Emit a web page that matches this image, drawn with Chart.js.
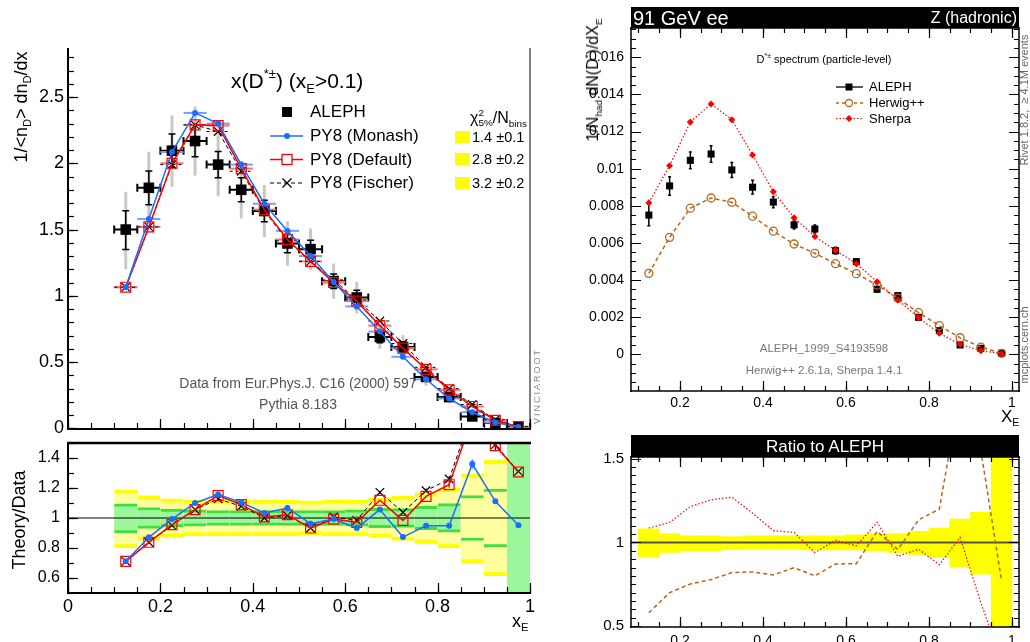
<!DOCTYPE html>
<html>
<head>
<meta charset="utf-8">
<title>D*± spectrum</title>
<script src="https://cdn.jsdelivr.net/npm/chart.js@4.4.1/dist/chart.umd.min.js"></script>
<style>
  html, body { margin: 0; padding: 0; background: #fff; }
  body { position: relative; width: 1030px; height: 642px; overflow: hidden;
         font-family: "Liberation Sans", Arial, Helvetica, sans-serif; color: #000; }
  canvas { position: absolute; }
  .t { position: absolute; white-space: nowrap; line-height: 1; }
  .c { position: absolute; white-space: nowrap; line-height: 1; transform: translate(-50%, -50%); }
  .rot { position: absolute; white-space: nowrap; line-height: 1; transform: translate(-50%, -50%) rotate(-90deg); }
  .sup { font-size: 62%; position: relative; top: -0.75em; }
  .sub { font-size: 62%; position: relative; top: 0.4em; }
  .stack { display: inline-block; vertical-align: -0.35em; font-size: 62%; line-height: 1.05; }
  .stack span { display: block; }
  .blk { position: absolute; background: #000; color: #fff; }
  .chi { position: absolute; background: #ffff00; width: 15px; height: 12px; }
</style>
</head>
<body>
<canvas id="mainL" width="545" height="440" style="left:0;top:0"></canvas>
<canvas id="ratioL" width="545" height="212" style="left:0;top:430px"></canvas>
<canvas id="mainR" width="450" height="430" style="left:580px;top:0"></canvas>
<canvas id="ratioR" width="450" height="212" style="left:580px;top:430px"></canvas>

<!-- left panel texts -->
<div class="t" style="left:231px;top:70px;font-size:21px">x(D<span class="sup">*±</span>) (x<span class="sub">E</span>&gt;0.1)</div>
<div class="t" style="left:310px;top:103px;font-size:17px">ALEPH</div>
<div class="t" style="left:310px;top:127px;font-size:17px">PY8 (Monash)</div>
<div class="t" style="left:310px;top:151px;font-size:17px">PY8 (Default)</div>
<div class="t" style="left:310px;top:174px;font-size:17px">PY8 (Fischer)</div>
<div class="t" style="left:470px;top:108px;font-size:16px">χ<span class="stack"><span>2</span><span>5%</span></span>/N<span class="sub">bins</span></div>
<div class="chi" style="left:455px;top:131px"></div>
<div class="chi" style="left:455px;top:153px"></div>
<div class="chi" style="left:455px;top:177px"></div>
<div class="t" style="left:472px;top:130px;font-size:14.5px">1.4 ±0.1</div>
<div class="t" style="left:472px;top:152px;font-size:14.5px">2.8 ±0.2</div>
<div class="t" style="left:472px;top:176px;font-size:14.5px">3.2 ±0.2</div>
<div class="c" style="left:298px;top:383px;font-size:14px;color:#555">Data from Eur.Phys.J. C16 (2000) 597</div>
<div class="c" style="left:298px;top:404px;font-size:14px;color:#555">Pythia 8.183</div>
<div class="rot" style="left:537px;top:386px;font-size:9px;letter-spacing:2px;color:#888">VINCIAROOT</div>
<div class="rot" style="left:21px;top:107px;font-size:18px">1/&lt;n<span class="sub">D</span>&gt; dn<span class="sub">D</span>/dx</div>
<div class="rot" style="left:19px;top:520px;font-size:18px">Theory/Data</div>
<div class="t" style="left:512px;top:612px;font-size:18px">x<span class="sub">E</span></div>

<!-- right panel texts -->
<div class="blk" style="left:631px;top:7px;width:388px;height:21px"></div>
<div class="t" style="left:633px;top:8px;font-size:20px;color:#fff">91 GeV ee</div>
<div class="t" style="right:13px;top:10px;font-size:16px;color:#fff">Z (hadronic)</div>
<div class="c" style="left:824px;top:59px;font-size:11px">D<span class="sup">*±</span> spectrum (particle-level)</div>
<div class="t" style="left:869px;top:80px;font-size:13px">ALEPH</div>
<div class="t" style="left:869px;top:96px;font-size:13px">Herwig++</div>
<div class="t" style="left:869px;top:112px;font-size:13px">Sherpa</div>
<div class="c" style="left:824px;top:349px;font-size:11.5px;color:#777">ALEPH_1999_S4193598</div>
<div class="c" style="left:824px;top:371px;font-size:11.5px;color:#777">Herwig++ 2.6.1a, Sherpa 1.4.1</div>
<div class="rot" style="left:1024px;top:100px;font-size:11px;color:#666">Rivet 1.8.2,&nbsp; ≥ 4.1M events</div>
<div class="rot" style="left:1024px;top:345px;font-size:11px;color:#666">mcplots.cern.ch</div>
<div class="rot" style="left:593px;top:80px;font-size:16px">1/N<span class="sub">had</span> dN(D<span class="sup">*</span>)/dX<span class="sub">E</span></div>
<div class="t" style="left:1001px;top:408px;font-size:17px">X<span class="sub">E</span></div>
<div class="blk" style="left:631px;top:435px;width:388px;height:22px"></div>
<div class="c" style="left:825px;top:446px;font-size:17px;color:#fff">Ratio to ALEPH</div>

<script>
// ---- data: x_E bin centres (bin width 0.05) ----
const xE = [0.125, 0.175, 0.225, 0.275, 0.325, 0.375, 0.425, 0.475, 0.525,
            0.575, 0.625, 0.675, 0.725, 0.775, 0.825, 0.875, 0.925, 0.975];

// left: 1/<n_D> dn_D/dx
const aleph     = [1.50, 1.815, 2.095, 2.168, 1.99, 1.80, 1.64, 1.395, 1.352, 1.11, 0.987, 0.69, 0.614, 0.388, 0.236, 0.09, 0.04, 0.01];
const pyMonash  = [1.065, 1.58, 2.085, 2.38, 2.30, 1.99, 1.695, 1.49, 1.30, 1.105, 0.92, 0.73, 0.54, 0.37, 0.225, 0.122, 0.044, 0.0095];
const pyDefault = [1.065, 1.52, 2.00, 2.29, 2.285, 1.96, 1.65, 1.425, 1.26, 1.10, 0.96, 0.775, 0.605, 0.445, 0.29, 0.165, 0.06, 0.013];
const pyFischer = [1.065, 1.52, 1.99, 2.29, 2.24, 1.94, 1.64, 1.415, 1.26, 1.12, 0.97, 0.81, 0.64, 0.46, 0.30, 0.18, 0.065, 0.013];

// left: theory / data
const monashRatio  = [0.711, 0.871, 0.993, 1.10, 1.156, 1.104, 1.033, 1.067, 0.962, 0.993, 0.933, 1.056, 0.873, 0.949, 0.949, 1.36, 1.111, 0.951];
const defaultRatio = [0.711, 0.838, 0.956, 1.056, 1.149, 1.089, 1.007, 1.022, 0.933, 0.993, 0.971, 1.118, 0.984, 1.144, 1.222, 1.67, 1.482, 1.307];
const fischerRatio = [0.711, 0.838, 0.951, 1.056, 1.127, 1.078, 1.0, 1.016, 0.933, 1.007, 0.984, 1.171, 1.038, 1.182, 1.26, 1.70, 1.489, 1.311];
const pyRatioErr   = [0.01, 0.01, 0.01, 0.01, 0.01, 0.01, 0.01, 0.01, 0.01, 0.01, 0.01, 0.01, 0.015, 0.015, 0.02, 0.03, 0.035, 0.07];

// left: data uncertainty bands (relative)
const totHi  = [1.19, 1.15, 1.127, 1.12, 1.12, 1.12, 1.12, 1.12, 1.115, 1.12, 1.12, 1.133, 1.145, 1.167, 1.198, 1.295, 1.385, 1.75];
const statHi = [1.095, 1.07, 1.06, 1.055, 1.05, 1.05, 1.05, 1.05, 1.05, 1.05, 1.055, 1.065, 1.062, 1.078, 1.096, 1.15, 1.193, 1.6];
const statLo = [0.90, 0.93, 0.94, 0.945, 0.95, 0.95, 0.95, 0.95, 0.95, 0.95, 0.945, 0.935, 0.938, 0.922, 0.905, 0.85, 0.807, 0.4];
const totLo  = [0.80, 0.85, 0.87, 0.88, 0.88, 0.88, 0.88, 0.88, 0.885, 0.88, 0.88, 0.87, 0.85, 0.83, 0.80, 0.70, 0.615, 0.25];

// right: 1/N_had dN(D*)/dX_E
const alephR    = [0.0075, 0.00907, 0.01045, 0.01079, 0.00993, 0.0090, 0.0082, 0.00697, 0.00675, 0.00558, 0.00499, 0.0035, 0.00316, 0.00199, 0.00127, 0.0005, 0.00032, 0.00005];
const alephRErr = [0.00058, 0.0005, 0.00045, 0.00045, 0.0004, 0.00037, 0.0003, 0.00022, 0.00022, 0.00018, 0.00016, 0.00014, 0.00012, 0.0001, 0.0001, 0.00008, 0.00006, 0.00003];
const herwig    = [0.00436, 0.0063, 0.00787, 0.00842, 0.00819, 0.00744, 0.00663, 0.00594, 0.00544, 0.00488, 0.00434, 0.00373, 0.00302, 0.00224, 0.00154, 0.00089, 0.00038, 0.00005];
const sherpa    = [0.00817, 0.01016, 0.01252, 0.01349, 0.01264, 0.01074, 0.00876, 0.00736, 0.00634, 0.0056, 0.00488, 0.00391, 0.00293, 0.00197, 0.00113, 0.00054, 0.00019, 0.00003];

// right: ratio to ALEPH
const herwigRatio = [0.58, 0.70, 0.752, 0.778, 0.82, 0.824, 0.806, 0.849, 0.80, 0.871, 0.873, 1.066, 0.957, 1.135, 1.199, 1.9, 1.55, 0.77];
const sherpaRatio = [1.086, 1.119, 1.214, 1.254, 1.27, 1.175, 1.07, 1.06, 0.94, 1.012, 0.98, 1.12, 0.917, 0.96, 0.867, 1.03, 0.64, 0.3];
const bandHi = [1.081, 1.052, 1.04, 1.04, 1.034, 1.04, 1.04, 1.04, 1.04, 1.04, 1.045, 1.052, 1.052, 1.066, 1.085, 1.14, 1.18, 1.6];
const bandLo = [0.911, 0.94, 0.95, 0.95, 0.957, 0.96, 0.96, 0.96, 0.955, 0.955, 0.955, 0.95, 0.94, 0.928, 0.911, 0.853, 0.81, 0.4];

// tick labels
const mainLYTicks  = [0, 0.5, 1, 1.5, 2, 2.5];
const ratioLYTicks = [0.6, 0.8, 1, 1.2, 1.4];
const leftXTicks   = [0, 0.2, 0.4, 0.6, 0.8, 1];
const mainRYTicks  = [0, 0.002, 0.004, 0.006, 0.008, 0.01, 0.012, 0.014, 0.016];
const ratioRYTicks = [0.5, 1, 1.5];
const rightXTicks  = [0.2, 0.4, 0.6, 0.8, 1];

const BLUE = '#1a6eff', RED = '#ff0000', BROWN = '#b8661e';

Chart.defaults.font.family = '"Liberation Sans", Arial, Helvetica, sans-serif';
Chart.defaults.color = '#000';
Chart.defaults.animation = false;
Chart.defaults.responsive = false;
Chart.defaults.events = [];
Chart.defaults.plugins.legend.display = false;
Chart.defaults.plugins.tooltip.enabled = false;

const pts = ys => xE.map((x, i) => ({ x, y: ys[i] }));
const span = (lo, hi) => xE.map((x, i) => ({ x, y: [lo[i], hi[i]] }));
const fmt = v => String(parseFloat((+v).toFixed(4)));

function axis(min, max, ticks, size, fontSize, pad, show) {
  return {
    type: 'linear', min, max, offset: false,
    grid: { display: false, drawTicks: false }, border: { display: false },
    ticks: { display: show, autoSkip: false, maxRotation: 0, padding: pad, font: { size: fontSize }, callback: fmt },
    afterBuildTicks: s => { s.ticks = ticks.map(v => ({ value: v })); },
    afterFit: s => {
      if (s.isHorizontal()) s.height = size; else s.width = size;
      s.paddingTop = s.paddingBottom = s.paddingLeft = s.paddingRight = 0;
    }
  };
}

// ROOT-style frame with inward ticks
const rootFrame = {
  id: 'rootFrame',
  afterDatasetsDraw(chart, args, o) {
    const { ctx, chartArea: a, scales: { x, y } } = chart;
    ctx.save();
    ctx.strokeStyle = '#000';
    ctx.lineWidth = o.tickWidth || 1;
    const marks = (scale, list, sides) => {
      list.forEach(({ step, len }) => {
        for (let k = Math.ceil(scale.min / step - 1e-6); k * step <= scale.max + 1e-9; k++) {
          const p = Math.round(scale.getPixelForValue(k * step)) + 0.5;
          ctx.beginPath();
          if (sides.includes('bottom')) { ctx.moveTo(p, a.bottom); ctx.lineTo(p, a.bottom - len); }
          if (sides.includes('top')) { ctx.moveTo(p, a.top); ctx.lineTo(p, a.top + len); }
          if (sides.includes('left')) { ctx.moveTo(a.left, p); ctx.lineTo(a.left + len, p); }
          if (sides.includes('right')) { ctx.moveTo(a.right, p); ctx.lineTo(a.right - len, p); }
          ctx.stroke();
        }
      });
    };
    marks(x, o.xTicks, o.xSides);
    marks(y, o.yTicks, o.ySides);
    const f = o.frame;
    const side = (w, x1, y1, x2, y2) => {
      if (!w) return;
      ctx.lineWidth = w;
      ctx.beginPath(); ctx.moveTo(x1, y1); ctx.lineTo(x2, y2); ctx.stroke();
    };
    side(f.top, a.left - 1, a.top, a.right + 1, a.top);
    side(f.bottom, a.left - 1, a.bottom, a.right + 1, a.bottom);
    side(f.left, a.left, a.top, a.left, a.bottom + 1);
    side(f.right, a.right, a.top, a.right, a.bottom + 1);
    ctx.restore();
  },
  afterDatasetDraw(chart, args, o) {
    if (!o.unity || chart.data.datasets[args.index].label !== o.unity.after) return;
    const { ctx, chartArea: a, scales: { y } } = chart;
    const p = y.getPixelForValue(1);
    ctx.save();
    ctx.strokeStyle = o.unity.color; ctx.lineWidth = o.unity.width;
    ctx.beginPath(); ctx.moveTo(a.left, p); ctx.lineTo(a.right, p); ctx.stroke();
    ctx.restore();
  }
};

// error bars and bin-width bars
const errBars = {
  id: 'errBars',
  beforeDatasetsDraw(chart, args, o) {
    const { ctx, chartArea: a, scales: { x, y } } = chart;
    ctx.save();
    ctx.beginPath(); ctx.rect(a.left, a.top, a.right - a.left, a.bottom - a.top); ctx.clip();
    (o.items || []).forEach(it => {
      ctx.strokeStyle = it.color; ctx.lineWidth = it.width; ctx.setLineDash(it.dash || []);
      xE.forEach((xv, i) => {
        const px = x.getPixelForValue(xv), py = y.getPixelForValue(it.ys[i]);
        ctx.beginPath();
        if (it.half) {
          const l = x.getPixelForValue(xv - it.half), r = x.getPixelForValue(xv + it.half);
          ctx.moveTo(l, py); ctx.lineTo(r, py);
          if (it.cap) { ctx.moveTo(l, py - it.cap); ctx.lineTo(l, py + it.cap); ctx.moveTo(r, py - it.cap); ctx.lineTo(r, py + it.cap); }
        }
        if (it.up) {
          const t = y.getPixelForValue(it.ys[i] + it.up[i]), b = y.getPixelForValue(it.ys[i] - it.down[i]);
          ctx.moveTo(px, t); ctx.lineTo(px, b);
          if (it.cap) { ctx.moveTo(px - it.cap, t); ctx.lineTo(px + it.cap, t); ctx.moveTo(px - it.cap, b); ctx.lineTo(px + it.cap, b); }
        }
        ctx.stroke();
      });
    });
    ctx.restore();
  }
};

function drawMark(ctx, m, x, y) {
  const r = m.r;
  ctx.save();
  ctx.setLineDash([]);
  ctx.strokeStyle = m.color; ctx.fillStyle = m.color; ctx.lineWidth = m.lw || 1.3;
  ctx.beginPath();
  if (m.style === 'square') ctx.fillRect(x - r, y - r, 2 * r, 2 * r);
  if (m.style === 'openSquare') { ctx.fillStyle = '#fff'; ctx.fillRect(x - r, y - r, 2 * r, 2 * r); ctx.strokeRect(x - r, y - r, 2 * r, 2 * r); }
  if (m.style === 'dot') { ctx.arc(x, y, r, 0, 2 * Math.PI); ctx.fill(); }
  if (m.style === 'circle') { ctx.fillStyle = '#fff'; ctx.arc(x, y, r, 0, 2 * Math.PI); ctx.fill(); ctx.stroke(); }
  if (m.style === 'cross') { ctx.moveTo(x - r, y - r); ctx.lineTo(x + r, y + r); ctx.moveTo(x - r, y + r); ctx.lineTo(x + r, y - r); ctx.stroke(); }
  if (m.style === 'diamond') { ctx.moveTo(x, y - r); ctx.lineTo(x + r, y); ctx.lineTo(x, y + r); ctx.lineTo(x - r, y); ctx.closePath(); ctx.fill(); }
  ctx.restore();
}

// legend samples (page coordinates, shifted by canvas offset)
const legendMarks = {
  id: 'legendMarks',
  afterDraw(chart, args, o) {
    const ctx = chart.ctx;
    (o.items || []).forEach(it => {
      const y = it.y - o.oy;
      if (it.x2) {
        ctx.save();
        ctx.strokeStyle = it.color; ctx.lineWidth = it.lw || 1.5; ctx.setLineDash(it.dash || []);
        ctx.beginPath(); ctx.moveTo(it.x1 - o.ox, y); ctx.lineTo(it.x2 - o.ox, y); ctx.stroke();
        ctx.restore();
      }
      drawMark(ctx, it.mark, it.mx - o.ox, y);
    });
  }
};

Chart.register(rootFrame, errBars, legendMarks);

// ---------- left main panel ----------
new Chart(document.getElementById('mainL'), {
  type: 'scatter',
  data: {
    datasets: [
      { type: 'line', label: 'PY8 (Monash)', data: pts(pyMonash), borderColor: BLUE, borderWidth: 1.5, tension: 0,
        pointStyle: 'circle', pointRadius: 3, pointBackgroundColor: BLUE, pointBorderWidth: 0 },
      { type: 'line', label: 'PY8 (Default)', data: pts(pyDefault), borderColor: RED, borderWidth: 1.5, tension: 0,
        pointStyle: 'rect', pointRadius: 7, pointBackgroundColor: 'rgba(0,0,0,0)', pointBorderColor: RED, pointBorderWidth: 1.2 },
      { type: 'line', label: 'PY8 (Fischer)', data: pts(pyFischer), borderColor: '#000', borderWidth: 1, borderDash: [4, 3], tension: 0,
        pointStyle: 'crossRot', pointRadius: 6, pointBorderColor: '#000', pointBorderWidth: 1.2 },
      { type: 'line', label: 'ALEPH', data: pts(aleph), showLine: false,
        pointStyle: 'rect', pointRadius: 7.5, pointBackgroundColor: '#000', pointBorderWidth: 0 }
    ]
  },
  options: {
    devicePixelRatio: 1,
    layout: { padding: { left: 0, top: 48, right: 15, bottom: 11 } },
    scales: {
      x: axis(0, 1, leftXTicks, 0, 18, 3, false),
      y: axis(-0.005, 2.87, mainLYTicks, 68, 18, 4, true)
    },
    plugins: {
      rootFrame: { frame: { left: 2, bottom: 2, right: 1 }, tickWidth: 1.2,
        xTicks: [{ step: 0.05, len: 6 }, { step: 0.2, len: 10 }], xSides: ['bottom'],
        yTicks: [{ step: 0.1, len: 6 }, { step: 0.5, len: 10 }], ySides: ['left'] },
      errBars: { items: [
        { ys: aleph, up: aleph.map((v, i) => v * (totHi[i] - 1)), down: aleph.map((v, i) => v * (1 - totLo[i])), color: '#c8c8c8', width: 3 },
        { ys: aleph, up: aleph.map((v, i) => v * (statHi[i] - 1)), down: aleph.map((v, i) => v * (1 - statLo[i])), color: '#000', width: 1.5, cap: 3.5 },
        { ys: aleph, half: 0.025, color: '#000', width: 2, cap: 4 },
        { ys: pyMonash, half: 0.025, color: '#6ea4ff', width: 2 },
        { ys: pyDefault, half: 0.025, color: '#ff7070', width: 2 },
        { ys: pyFischer, half: 0.025, color: '#000', width: 1, dash: [3, 3] }
      ] },
      legendMarks: { ox: 0, oy: 0, items: [
        { mx: 287, y: 112, mark: { style: 'square', r: 5, color: '#000' } },
        { x1: 270, x2: 303, y: 136, color: BLUE, mx: 287, mark: { style: 'dot', r: 3, color: BLUE } },
        { x1: 270, x2: 303, y: 159.5, color: RED, mx: 287, mark: { style: 'openSquare', r: 5, color: RED } },
        { x1: 270, x2: 303, y: 183, color: '#000', lw: 1, dash: [4, 3], mx: 287, mark: { style: 'cross', r: 4.5, color: '#000' } }
      ] }
    }
  }
});

// ---------- left ratio panel ----------
// stat band interior turns pale yellow where it is wide but still inside the frame
const statFill = c => {
  const w = statHi[c.dataIndex] - statLo[c.dataIndex];
  return (w > 0.25 && w < 1) ? '#ffffa0' : '#9cf79c';
};

new Chart(document.getElementById('ratioL'), {
  type: 'scatter',
  data: {
    datasets: [
      { type: 'line', label: 'Monash ratio', data: pts(monashRatio), borderColor: BLUE, borderWidth: 1.5, tension: 0,
        pointStyle: 'circle', pointRadius: 3, pointBackgroundColor: BLUE, pointBorderWidth: 0 },
      { type: 'line', label: 'Default ratio', data: pts(defaultRatio), borderColor: RED, borderWidth: 1.5, tension: 0,
        pointStyle: 'rect', pointRadius: 7, pointBackgroundColor: 'rgba(0,0,0,0)', pointBorderColor: RED, pointBorderWidth: 1.2 },
      { type: 'line', label: 'Fischer ratio', data: pts(fischerRatio), borderColor: '#000', borderWidth: 1, borderDash: [4, 3], tension: 0,
        pointStyle: 'crossRot', pointRadius: 6, pointBorderColor: '#000', pointBorderWidth: 1.2 },
      { type: 'bar', label: 'stat band', data: span(statLo, statHi), grouped: false, barPercentage: 1, categoryPercentage: 1,
        backgroundColor: statFill, borderColor: '#3ee03e', borderWidth: { top: 3, bottom: 3, left: 0, right: 0 }, borderSkipped: false },
      { type: 'bar', label: 'total band', data: span(totLo, totHi), grouped: false, barPercentage: 1, categoryPercentage: 1,
        backgroundColor: '#ffffa0', borderColor: '#ffff00', borderWidth: { top: 4, bottom: 4, left: 0, right: 0 }, borderSkipped: false }
    ]
  },
  options: {
    devicePixelRatio: 1,
    layout: { padding: { left: 0, top: 13, right: 15, bottom: 0 } },
    scales: {
      x: axis(0, 1, leftXTicks, 49, 18, 3, true),
      y: axis(0.5, 1.5, ratioLYTicks, 68, 16, 8, true)
    },
    plugins: {
      rootFrame: { frame: { left: 2, bottom: 2, top: 2.5 }, tickWidth: 1.2, unity: { after: 'stat band', color: '#000', width: 1 },
        xTicks: [{ step: 0.05, len: 6 }, { step: 0.2, len: 10 }], xSides: ['bottom'],
        yTicks: [{ step: 0.1, len: 6 }, { step: 0.2, len: 10 }], ySides: ['left'] },
      errBars: { items: [
        { ys: monashRatio, up: pyRatioErr, down: pyRatioErr, color: BLUE, width: 1.3 },
        { ys: defaultRatio, up: pyRatioErr, down: pyRatioErr, color: RED, width: 1.3 },
        { ys: fischerRatio, up: pyRatioErr, down: pyRatioErr, color: '#000', width: 1 }
      ] }
    }
  }
});

// ---------- right main panel ----------
new Chart(document.getElementById('mainR'), {
  type: 'scatter',
  data: {
    datasets: [
      { type: 'line', label: 'Sherpa', data: pts(sherpa), borderColor: RED, borderWidth: 1.2, borderDash: [1.5, 2], tension: 0,
        pointStyle: 'rectRot', pointRadius: 3.5, pointBackgroundColor: RED, pointBorderWidth: 0 },
      { type: 'line', label: 'Herwig++', data: pts(herwig), borderColor: BROWN, borderWidth: 1.5, borderDash: [4, 3], tension: 0,
        pointStyle: 'circle', pointRadius: 4, pointBackgroundColor: 'rgba(0,0,0,0)', pointBorderColor: BROWN, pointBorderWidth: 1.3 },
      { type: 'line', label: 'ALEPH', data: pts(alephR), showLine: false,
        pointStyle: 'rect', pointRadius: 5, pointBackgroundColor: '#000', pointBorderWidth: 0 }
    ]
  },
  options: {
    devicePixelRatio: 1,
    layout: { padding: { left: 0, top: 28, right: 11, bottom: 0 } },
    scales: {
      x: axis(0.082, 1.017, rightXTicks, 39, 14, 4, true),
      y: axis(-0.00198, 0.01758, mainRYTicks, 51, 14, 7, true)
    },
    plugins: {
      rootFrame: { frame: { left: 1.5, bottom: 1.5, top: 1.5, right: 1.5 }, tickWidth: 1.2,
        xTicks: [{ step: 0.05, len: 5 }, { step: 0.2, len: 10 }], xSides: ['bottom', 'top'],
        yTicks: [{ step: 0.0005, len: 5 }, { step: 0.002, len: 10 }], ySides: ['left', 'right'] },
      errBars: { items: [
        { ys: alephR, up: alephRErr, down: alephRErr, color: '#000', width: 1.5, cap: 1.5 }
      ] },
      legendMarks: { ox: 580, oy: 0, items: [
        { x1: 836, x2: 863, y: 87, color: '#000', lw: 1.3, mx: 849, mark: { style: 'square', r: 3.5, color: '#000' } },
        { x1: 836, x2: 863, y: 103, color: BROWN, dash: [3, 3], mx: 849, mark: { style: 'circle', r: 3.5, color: BROWN } },
        { x1: 836, x2: 863, y: 118.5, color: RED, lw: 1.2, dash: [1.5, 2], mx: 849, mark: { style: 'diamond', r: 3.5, color: RED } }
      ] }
    }
  }
});

// ---------- right ratio panel ----------
new Chart(document.getElementById('ratioR'), {
  type: 'scatter',
  data: {
    datasets: [
      { type: 'line', label: 'Sherpa ratio', data: pts(sherpaRatio), borderColor: RED, borderWidth: 1.2, borderDash: [1.5, 2], tension: 0, pointRadius: 0 },
      { type: 'line', label: 'Herwig++ ratio', data: pts(herwigRatio), borderColor: BROWN, borderWidth: 1.5, borderDash: [4, 3], tension: 0, pointRadius: 0 },
      { type: 'bar', label: 'ALEPH band', data: span(bandLo, bandHi), grouped: false, barPercentage: 1, categoryPercentage: 1,
        backgroundColor: '#ffff00', borderWidth: 0 }
    ]
  },
  options: {
    devicePixelRatio: 1,
    layout: { padding: { left: 0, top: 27, right: 11, bottom: 0 } },
    scales: {
      x: axis(0.082, 1.017, rightXTicks, 15, 14, 6, true),
      y: axis(0.495, 1.51, ratioRYTicks, 51, 15, 7, true)
    },
    plugins: {
      rootFrame: { frame: { left: 1.5, bottom: 1.5, top: 1.5, right: 1.5 }, tickWidth: 1.2, unity: { after: 'ALEPH band', color: '#555', width: 2 },
        xTicks: [{ step: 0.05, len: 5 }, { step: 0.2, len: 10 }], xSides: ['bottom', 'top'],
        yTicks: [{ step: 0.05, len: 5 }, { step: 0.5, len: 10 }], ySides: ['left', 'right'] }
    }
  }
});
</script>
</body>
</html>
